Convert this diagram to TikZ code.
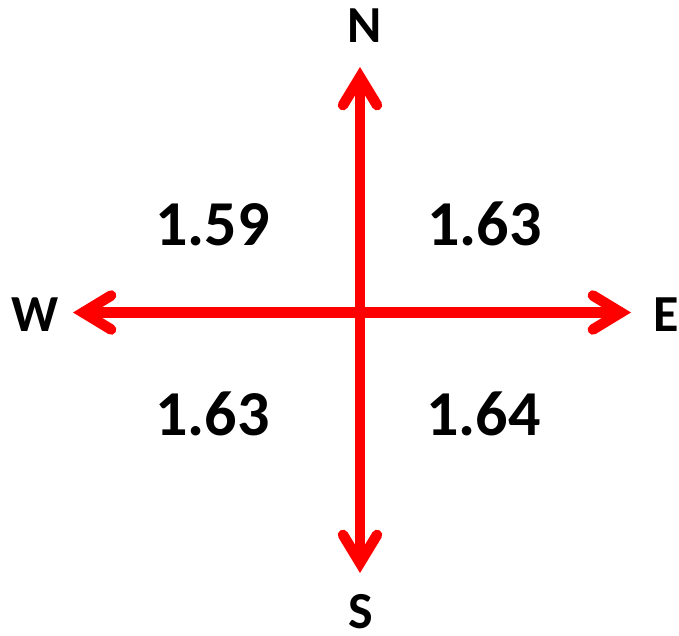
\documentclass[tikz,border=0pt]{standalone}
\usepackage{fontspec}
\setmainfont{Carlito}
\usetikzlibrary{arrows.meta}
\definecolor{arrowred}{RGB}{255,0,0}
\tikzset{
  compassarrow/.style={draw=arrowred, line width=10.5pt,
    -{Straight Barb[length=28pt, width=34pt, line cap=round, line join=miter]}},
  dirlabel/.style={inner sep=0pt, anchor=base, text depth=0pt, font=\fontsize{52}{52}\selectfont\bfseries},
  numlabel/.style={inner sep=0pt, anchor=base, font=\fontsize{64}{64}\selectfont\bfseries}
}
\begin{document}
\begin{tikzpicture}[x=1pt,y=1pt]
\useasboundingbox (0,0) rectangle (679,-636);
\coordinate (ctr) at (360,-312.5);
\coordinate (ntip) at (360,-67);
\coordinate (stip) at (360,-573);
\coordinate (wtip) at (73,-312.5);
\coordinate (etip) at (631,-312.5);
\draw[compassarrow] (stip |- ctr) -- (ntip);
\draw[compassarrow] (ntip |- ctr) -- (stip);
\draw[compassarrow] (ctr) -- (wtip);
\draw[compassarrow] (ctr) -- (etip);
\node[dirlabel] (n) at (364.5,-43) {N};
\node[dirlabel] (s) at (360.5,-628) {S};
\node[dirlabel] (w) at (35.5,-331) {W};
\node[dirlabel] (e) at (666,-331) {E};
\node[numlabel] (nw) at (212.5,-245) {1.59};
\node[numlabel] (ne) at (484.5,-245) {1.63};
\node[numlabel] (sw) at (212.5,-435) {1.63};
\node[numlabel] (se) at (483.5,-435) {1.64};
\end{tikzpicture}
\end{document}
